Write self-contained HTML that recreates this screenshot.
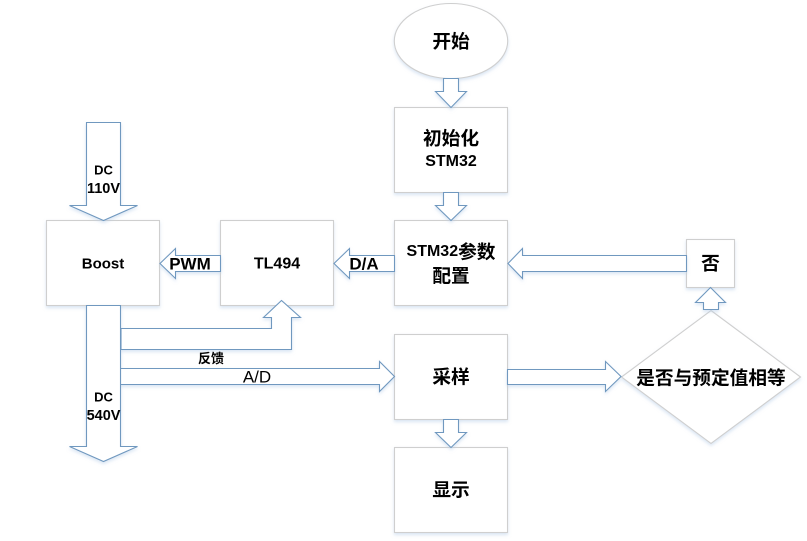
<!DOCTYPE html>
<html><head><meta charset="utf-8"><style>
html,body{margin:0;padding:0;background:#fff;width:807px;height:541px;overflow:hidden}
svg{display:block}
text{font-family:"Liberation Sans","Noto Sans CJK SC",sans-serif;font-weight:bold;fill:#000;text-anchor:middle;dominant-baseline:central}
.b{fill:#fff;stroke:#cfcfcf;stroke-width:1.1}
.a{fill:#fff;stroke:#6f98bf;stroke-width:1.1;stroke-linejoin:miter}
.c{font-size:18.7px}
.l{font-size:16px}
</style></head><body>
<svg width="807" height="541" viewBox="0 0 807 541" xmlns="http://www.w3.org/2000/svg">
<defs>
<filter id="s" x="-20%" y="-20%" width="140%" height="140%"><feDropShadow dx="0" dy="2" stdDeviation="1.6" flood-color="#b5cde8" flood-opacity="0.5"/></filter>
</defs>
<g filter="url(#s)">
<ellipse class="b" cx="451" cy="41" rx="56.7" ry="37.5"/>
<rect class="b" x="394.5" y="107.5" width="113" height="85"/>
<rect class="b" x="394.5" y="220.5" width="113" height="85"/>
<rect class="b" x="394.5" y="334.5" width="113" height="85"/>
<rect class="b" x="394.5" y="447.5" width="113" height="85"/>
<rect class="b" x="46.5" y="220.5" width="113" height="85"/>
<rect class="b" x="220.5" y="220.5" width="113" height="85"/>
<rect class="b" x="686.5" y="239.5" width="48" height="48"/>
<polygon class="b" points="711,310.5 800.5,377 711,443.5 621.5,377"/>
</g>
<g filter="url(#s)">
<polygon class="a" points="86.5,122.5 120.5,122.5 120.5,205.5 137.5,205.5 103.5,220.5 69.5,205.5 86.5,205.5"/>
<polygon class="a" points="220.5,255.5 220.5,271.5 175.5,271.5 175.5,278.5 160,263.5 175.5,248.5 175.5,255.5"/>
<polygon class="a" points="394.5,255.5 394.5,271.5 349.5,271.5 349.5,278.5 334,263.5 349.5,248.5 349.5,255.5"/>
<polygon class="a" points="686.5,255.5 686.5,271.5 522.5,271.5 522.5,278.5 508,263.5 522.5,248.5 522.5,255.5"/>
<polygon class="a" points="121,328.5 271.5,328.5 271.5,317.5 263.5,317.5 281.5,300.5 300.5,317.5 291.5,317.5 291.5,349.5 121,349.5"/>
<polygon class="a" points="120.5,368.5 379.5,368.5 379.5,361.5 394.5,376.5 379.5,391.5 379.5,384.5 120.5,384.5"/>
<polygon class="a" points="86.5,305.5 120.5,305.5 120.5,446.5 137.5,446.5 103.5,461.5 69.5,446.5 86.5,446.5"/>
<polygon class="a" points="443.5,78.5 458.5,78.5 458.5,91.5 466.5,91.5 451,107.5 435.5,91.5 443.5,91.5"/>
<polygon class="a" points="443.5,192.5 458.5,192.5 458.5,205.5 466.5,205.5 451,220.5 435.5,205.5 443.5,205.5"/>
<polygon class="a" points="443.5,419.5 458.5,419.5 458.5,432.5 466.5,432.5 451,447.5 435.5,432.5 443.5,432.5"/>
<polygon class="a" points="507.5,369.5 605.5,369.5 605.5,361.5 621,376.5 605.5,391.5 605.5,384.5 507.5,384.5"/>
<polygon class="a" points="703.5,309.5 718.5,309.5 718.5,302.5 725.5,302.5 710.5,287.5 695.5,302.5 703.5,302.5"/>
</g>
<text class="c" x="451" y="41.5">开始</text>
<text class="c" x="451" y="138.5">初始化</text>
<text class="l" x="451" y="161.5">STM32</text>
<text class="l" x="451" y="251.5">STM32<tspan class="c">参数</tspan></text>
<text class="c" x="451" y="276">配置</text>
<text class="c" x="451" y="377">采样</text>
<text class="c" x="451" y="490">显示</text>
<text class="c" x="710.5" y="263.5">否</text>
<text class="c" x="711" y="378">是否与预定值相等</text>
<text x="103" y="264" style="font-size:15px">Boost</text>
<text x="277" y="264" class="l">TL494</text>
<text x="190" y="264" style="font-size:17px">PWM</text>
<text x="364" y="264" style="font-size:17px">D/A</text>
<text x="103.5" y="170" style="font-size:13px">DC</text>
<text x="103.5" y="189" style="font-size:14.5px">110V</text>
<text x="103.5" y="397" style="font-size:13px">DC</text>
<text x="103.5" y="416" style="font-size:14.5px">540V</text>
<text x="211" y="358.5" style="font-size:13px">反馈</text>
<text x="257" y="377" style="font-size:17px;font-weight:normal">A/D</text>
</svg>
</body></html>
